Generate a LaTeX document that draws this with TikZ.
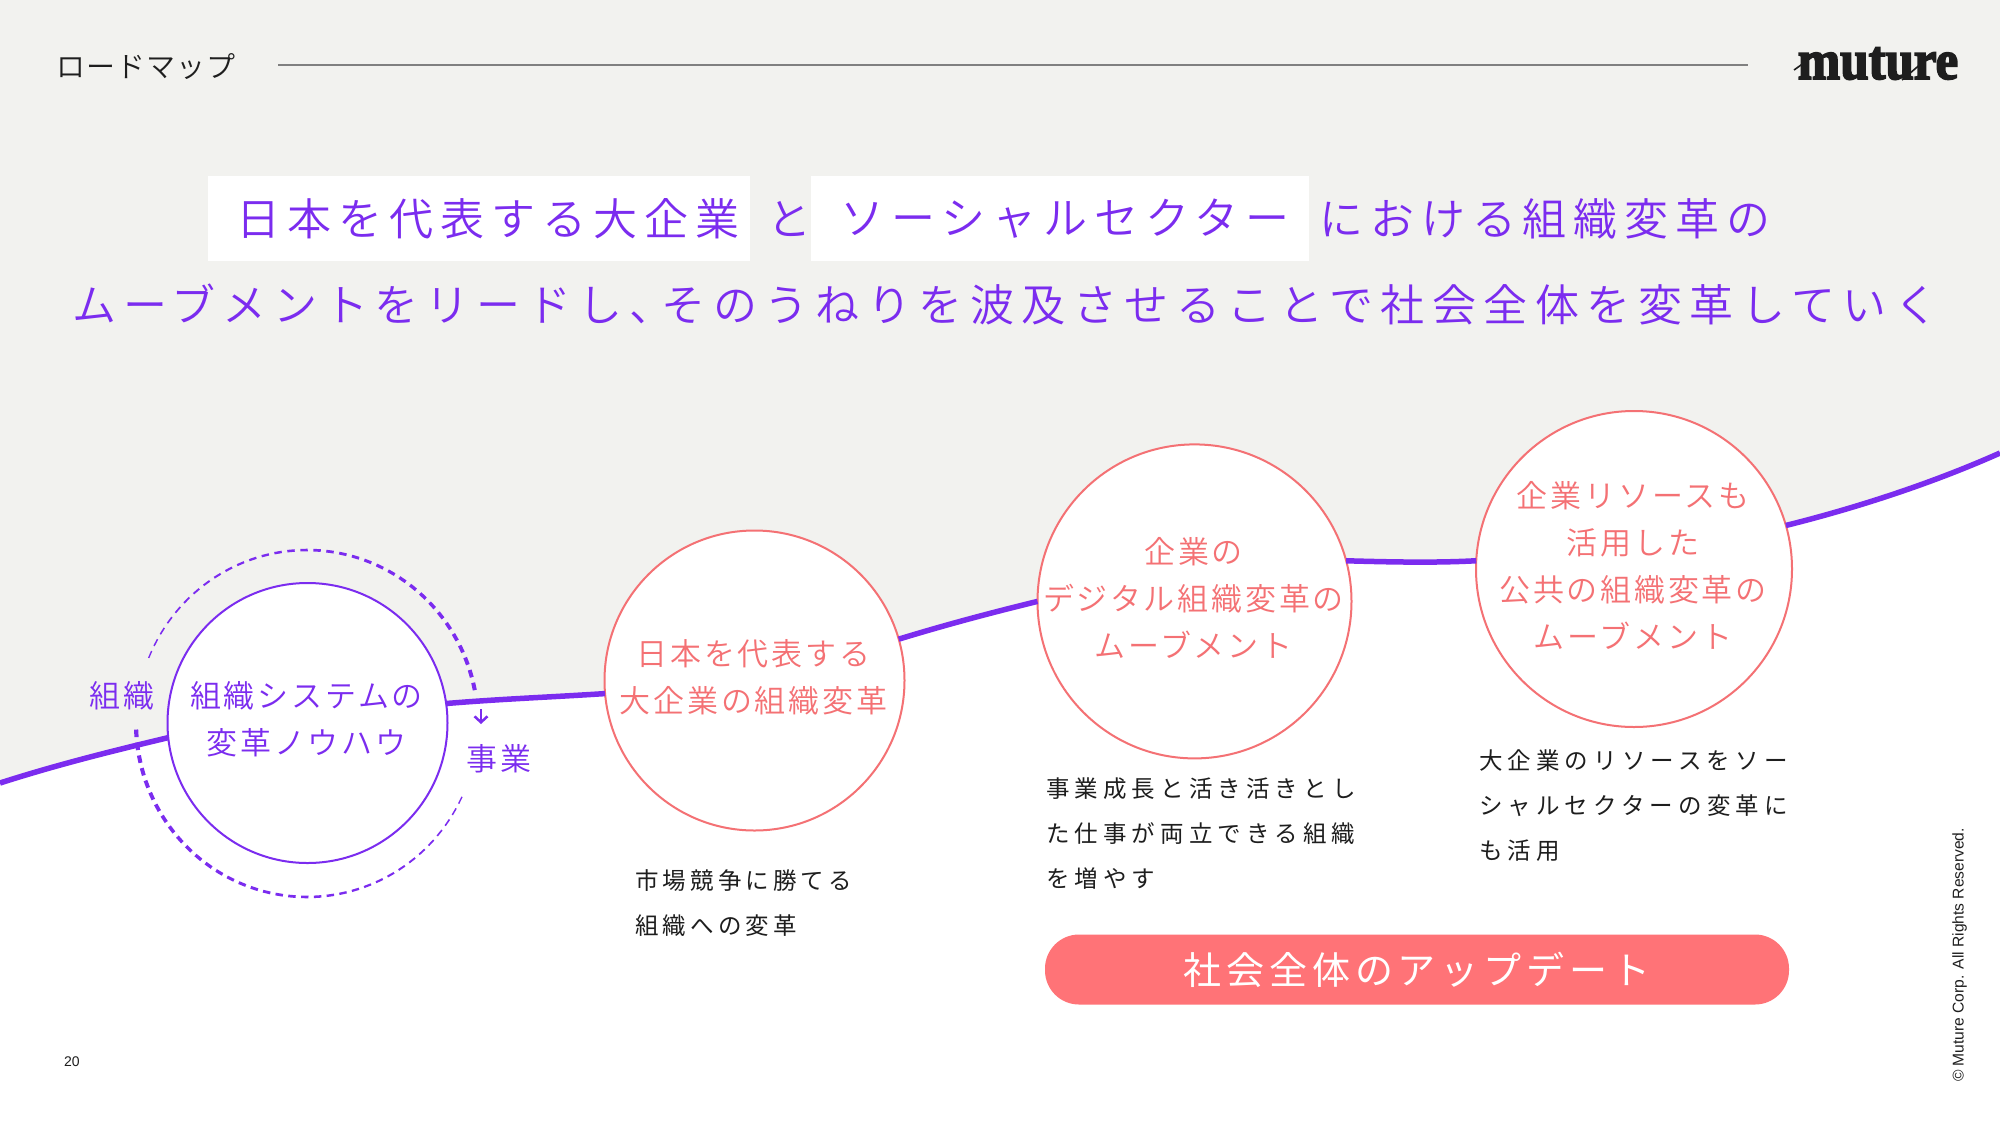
\documentclass[tikz,border=0pt]{standalone}
\usepackage{fontspec}
\usetikzlibrary{arrows.meta}
\setmainfont{Liberation Sans}
\newfontfamily\jphead[LetterSpace=4]{Noto Sans CJK JP DemiLight}
\newfontfamily\jptitle[LetterSpace=15.7]{Noto Sans CJK JP DemiLight}
\newfontfamily\jptitlew[LetterSpace=17]{Noto Sans CJK JP DemiLight}
\newfontfamily\jpcirc[LetterSpace=9]{Noto Sans CJK JP DemiLight}
\newfontfamily\jpdesc[LetterSpace=17.5]{Noto Sans CJK JP}
\newfontfamily\jpdescw[LetterSpace=21.7]{Noto Sans CJK JP}
\newfontfamily\jppill[LetterSpace=13]{Noto Sans CJK JP}
\newfontfamily\logofont[FakeBold=3,FakeStretch=0.91]{Liberation Serif Bold}
\definecolor{bggray}{HTML}{F2F2EF}
\definecolor{vio}{HTML}{7B2CEF}
\definecolor{coral}{HTML}{F47174}
\definecolor{pill}{HTML}{FF7377}
\definecolor{ink}{HTML}{1E1E1E}
\tikzset{
  x=1pt,y=-1pt,
  titletext/.style={text=vio,inner sep=0pt,font=\jptitle\fontsize{44}{52}\selectfont},
  ring/.style={circle,draw,fill=white,inner sep=0pt,outer sep=0pt},
  violetring/.style={ring,draw=vio,line width=2pt},
  coralring/.style={ring,draw=coral,line width=2pt},
  ringtext/.style={inner sep=0pt,align=center,font=\jpcirc\fontsize{31}{46.8}\selectfont},
  wave/.style={draw=vio,line width=5.5pt},
  desc/.style={text=ink,inner sep=0pt,anchor=north west,align=left,font=\jpdesc\fontsize{23.5}{45}\selectfont},
  descwide/.style={desc,font=\jpdescw\fontsize{23.5}{45}\selectfont},
  sidelabel/.style={text=vio,inner sep=0pt,font=\jpcirc\fontsize{31}{36}\selectfont}
}
\begin{document}
\begin{tikzpicture}
\useasboundingbox (0,0) rectangle (2000,1125);
\fill[bggray] (0,0) rectangle (2000,1125);
% white area beneath the curve
\fill[white] (0,783) .. controls (56,765) and (112,751) .. (168,738) -- (447,702)
  .. controls (500,699) and (553,697) .. (605,694) -- (899,638)
  .. controls (945,625) and (990,613) .. (1036,601) -- (1348,559)
  .. controls (1390,562) and (1435,563) .. (1476,562) -- (1787,524)
  .. controls (1860,507) and (1935,482) .. (2000,453) -- (2000,1125) -- (0,1125) -- cycle;

% header
\node[inner sep=0pt,font=\jphead\fontsize{29}{34}\selectfont,text=ink] (hd) at (146,67) {ロードマップ};
\coordinate (ruleA) at (278,65);
\coordinate (ruleB) at (1748,65);
\draw[draw=gray,line width=1.2pt] (ruleA) -- (ruleB);
\node[inner sep=0pt,anchor=base,font=\logofont\fontsize{56}{56}\selectfont,text=ink] (logo) at (1878,79) {muture};
\draw[ink,line width=1.6pt] (1794,70) -- (1815,55);
\draw[ink,line width=1.6pt] (1902,80) -- (1923,62);

% title
\fill[white] (208,176) rectangle (750,261);
\fill[white] (811,176) rectangle (1309,261);
\node[titletext] (t1) at (488,219) {日本を代表する大企業};
\node[titletext] (t2) at (789,219) {と};
\node[titletext] (t3) at (1065,219) {ソーシャルセクター};
\node[titletext] (t4) at (1545,219) {における組織変革の};
\node[titletext,anchor=west] (t5) at (72,304) {ムーブメントをリードし、\kern-12pt {\jptitlew\fontsize{44}{52}\selectfont そのうねりを波及させることで社会全体を変革していく}};

% circles
\node[violetring,minimum size=280pt] (c1) at (307.5,723) {};
\node[coralring,minimum size=300pt] (c2) at (754.5,680.5) {};
\node[coralring,minimum size=314pt] (c3) at (1194.5,601.4) {};
\node[coralring,minimum size=316pt] (c4) at (1634,569) {};
\node[ringtext,text=vio] (ct1) at ([xshift=-1pt,yshift=3.5pt]c1.center) {組織システムの\\変革ノウハウ};
\node[ringtext,text=coral] (ct2) at ([xshift=-1pt,yshift=3.5pt]c2.center) {日本を代表する\\大企業の組織変革};
\node[ringtext,text=coral] (ct3) at ([xshift=-1pt,yshift=3.5pt]c3.center) {企業の\\デジタル組織変革の\\ムーブメント};
\node[ringtext,text=coral] (ct4) at ([xshift=-1pt,yshift=3.5pt]c4.center) {企業リソースも\\活用した\\公共の組織変革の\\ムーブメント};
\coordinate (wstart) at (0,783);
\coordinate (wend) at (2000,453);

% dashed loop around the first circle
\foreach \i in {0,...,33}{
  \pgfmathsetmacro{\angA}{157.8-\i*4.37}
  \pgfmathsetmacro{\angB}{\angA-2.5}
  \pgfmathsetmacro{\wid}{1.4+\i*0.08}
  \draw[vio,line width=\wid pt] ({307+171*cos(\angA)},{723.5-173.5*sin(\angA)}) -- ({307+171*cos(\angB)},{723.5-173.5*sin(\angB)});
}
\foreach \i in {0,...,35}{
  \pgfmathsetmacro{\angA}{-25-\i*4.3}
  \pgfmathsetmacro{\angB}{\angA-2.5}
  \pgfmathsetmacro{\wid}{1.4+\i*0.08}
  \draw[vio,line width=\wid pt] ({307+171*cos(\angA)},{723.5-173.5*sin(\angA)}) -- ({307+171*cos(\angB)},{723.5-173.5*sin(\angB)});
}
\coordinate (arrA) at (481,709);
\coordinate (arrB) at (481,724);
\draw[vio,line width=2.5pt,-{Straight Barb[length=6pt,width=13pt]}] (arrA) -- (arrB);

% wave
\draw[wave] (wstart) .. controls (56,765) and (112,751) .. (c1.186);
\draw[wave] (c1.8.5) .. controls (500,699) and (553,697) .. (c2.185);
\draw[wave] (c2.16.4) .. controls (945,625) and (990,613) .. (c3.180);
\draw[wave] (c3.15.4) .. controls (1390,562) and (1435,563) .. (c4.177.5);
\draw[wave] (c4.16.4) .. controls (1860,507) and (1935,482) .. (wend);

% side labels
\node[sidelabel] (lblA) at (122,696) {組織};
\node[sidelabel] (lblB) at (499,759) {事業};

% descriptions
\node[desc] (d2) at (635,869.5) {市場競争に勝てる\\組織への変革};
\node[descwide] (d3) at (1046,777.5) {事業成長と活き活きとし\\た仕事が両立できる組織\\を増やす};
\node[descwide] (d4) at (1479,749.5) {大企業のリソースをソー\\シャルセクターの変革に\\も活用};

% pill
\node[rounded corners=34pt,fill=pill,text=white,minimum width=744pt,minimum height=70pt,inner sep=0pt,font=\jppill\fontsize{38}{44}\selectfont] (pl) at (1417,969.5) {社会全体のアップデート};

% footer
\node[inner sep=0pt,font=\fontsize{14}{16}\selectfont,text=ink] (pg) at (72,1062) {20};
\node[inner sep=0pt,rotate=90,font=\fontsize{15.6}{18}\selectfont,text=ink] (cr) at (1959.5,955) {© Muture Corp. All Rights Reserved.};
\end{tikzpicture}
\end{document}
